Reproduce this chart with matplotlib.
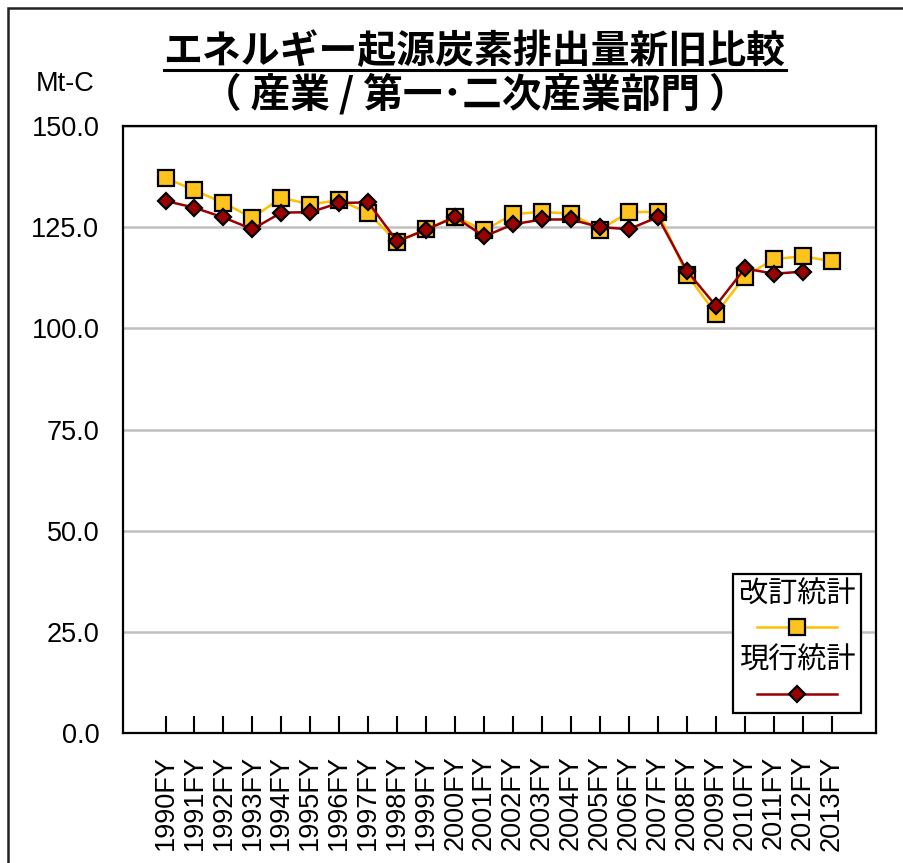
import numpy as np
import matplotlib.pyplot as plt
from matplotlib.lines import Line2D
from matplotlib.patches import Rectangle
from matplotlib.offsetbox import TextArea, DrawingArea, VPacker, AnchoredOffsetbox

# ============================================================
# データ
# ============================================================

years = ["1990FY", "1991FY", "1992FY", "1993FY", "1994FY", "1995FY",
         "1996FY", "1997FY", "1998FY", "1999FY", "2000FY", "2001FY",
         "2002FY", "2003FY", "2004FY", "2005FY", "2006FY", "2007FY",
         "2008FY", "2009FY", "2010FY", "2011FY", "2012FY", "2013FY"]

# 改訂統計
revised = [137.2, 134.1, 131.0, 127.3, 132.3, 130.6, 131.7, 128.5,
           121.3, 124.5, 127.6, 124.2, 128.2, 128.8, 128.3, 124.4,
           128.7, 128.8, 113.3, 103.6, 112.8, 117.1, 117.8, 116.6]

# 現行統計 (2013 は無し)
current = [131.5, 129.8, 127.4, 124.5, 128.6, 128.7, 131.0, 131.1,
           121.5, 124.4, 127.5, 122.7, 125.7, 126.9, 126.9, 125.0,
           124.5, 127.5, 114.2, 105.6, 114.8, 113.5, 114.0, np.nan]

yticks = [0, 25, 50, 75, 100, 125, 150]

title1 = "エネルギー起源炭素排出量新旧比較"
title2 = "（ 産業 / 第一･二次産業部門 ）"
unit_label = "Mt-C"
label_rev = "改訂統計"
label_cur = "現行統計"

# ============================================================
# スタイル
# ============================================================

CJK = ["Noto Sans CJK JP", "DejaVu Sans"]
NUM = ["Liberation Sans", "DejaVu Sans"]

c_rev_line = "#FFC000"
c_rev_face = "#FFC31E"
c_cur_line = "#990000"
c_cur_face = "#990000"

fig = plt.figure(figsize=(9.04, 8.63), dpi=100)
ax = fig.add_axes([0.136, 0.1506, 0.833, 0.7034])

x = np.arange(len(years))

ax.plot(x, revised, color=c_rev_line, lw=1.8, marker="s", ms=11,
        mfc=c_rev_face, mec="black", mew=1.6, zorder=3)
ax.plot(x, current, color=c_cur_line, lw=1.8, marker="D", ms=8.5,
        mfc=c_cur_face, mec="black", mew=1.6, zorder=4)

ax.set_ylim(0, 150)
ax.set_xlim(-1.47, 24.53)
ax.set_yticks(yticks)
ax.set_yticklabels([f"{v:.1f}" for v in yticks], fontsize=19.5, family=NUM)
ax.set_xticks(x)
ax.set_xticklabels(years, rotation=90, fontsize=19.5, family=NUM, va="top")

ax.tick_params(axis="y", length=0, pad=17)
ax.tick_params(axis="x", direction="in", length=12, width=1.5, pad=16)

ax.grid(axis="y", color="#C0C0C0", lw=1.8, zorder=0)
ax.set_axisbelow(True)
for s in ax.spines.values():
    s.set_linewidth(1.6)
    s.set_color("black")

# ============================================================
# 凡例 (テキストの下に線+マーカー)
# ============================================================

def legend_handle(color, face, marker, ms):
    da = DrawingArea(58, 20, 0, 0)
    da.add_artist(Line2D([0, 58], [10, 10], color=color, lw=1.8))
    da.add_artist(Line2D([29], [10], marker=marker, ms=ms, mfc=face,
                         mec="black", mew=1.6))
    return da

items = [
    TextArea(label_rev, textprops=dict(fontsize=21, family=CJK)),
    legend_handle(c_rev_line, c_rev_face, "s", 11),
    TextArea(label_cur, textprops=dict(fontsize=21, family=CJK)),
    legend_handle(c_cur_line, c_cur_face, "D", 8.5),
]
pack = VPacker(children=items, align="center", pad=0, sep=3)
leg = AnchoredOffsetbox(loc="lower right", child=pack, pad=0.4,
                        borderpad=0, frameon=True,
                        bbox_to_anchor=(0.98, 0.033),
                        bbox_transform=ax.transAxes)
leg.patch.set_linewidth(1.6)
leg.patch.set_edgecolor("black")
leg.patch.set_boxstyle("square", pad=0)
leg.zorder = 5
ax.add_artist(leg)

# ============================================================
# タイトル・単位
# ============================================================

t1 = fig.text(0.525, 0.940, title1, fontsize=28, fontweight="bold",
              family=CJK, ha="center", va="center")
fig.text(0.224, 0.890, title2, fontsize=28.5, fontweight="bold",
         family=CJK, ha="left", va="center")
fig.text(0.039, 0.903, unit_label, fontsize=19.5, family=NUM,
         ha="left", va="center")

# 下線
fig.canvas.draw()
bb = t1.get_window_extent().transformed(fig.transFigure.inverted())
fig.add_artist(Line2D([bb.x0, bb.x1], [bb.y0 + 0.002, bb.y0 + 0.002],
                      transform=fig.transFigure, color="black", lw=2.2))

# 外枠
fig.add_artist(Rectangle((8 / 904, -0.1), 1.2, 1.1 - 8 / 863,
                         transform=fig.transFigure, fill=False,
                         edgecolor="#222222", lw=1.8))

fig.savefig("out.png", dpi=100)
